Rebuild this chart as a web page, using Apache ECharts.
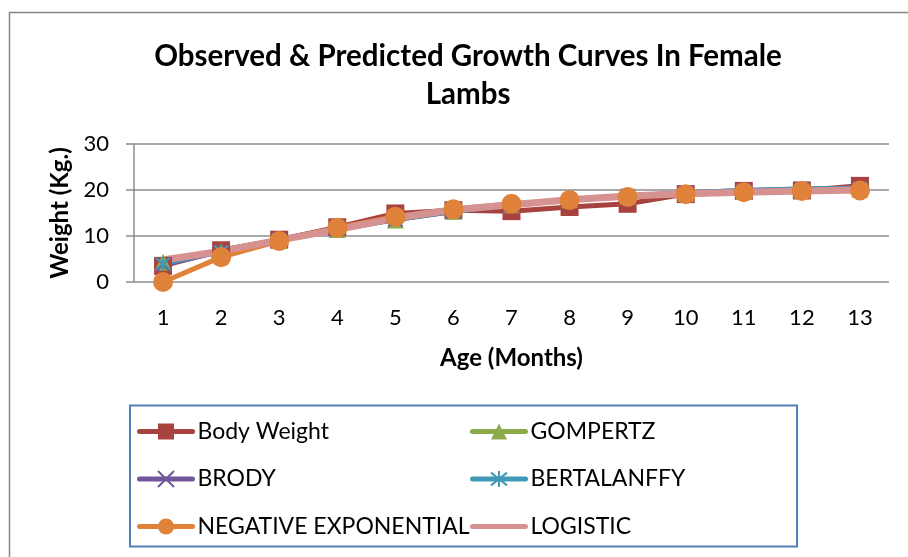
<!DOCTYPE html>
<html>
<head>
<meta charset="utf-8">
<script src="https://cdn.jsdelivr.net/npm/echarts@6/dist/echarts.min.js"></script>
<style>
  html, body { margin: 0; padding: 0; background: #fff; }
  #chart { width: 908px; height: 557px; }
</style>
</head>
<body>
<div id="chart"></div>
<script>
// ---- data ----
const months = ['1', '2', '3', '4', '5', '6', '7', '8', '9', '10', '11', '12', '13'];
const bodyWeight = [3.5, 6.9, 9.2, 11.9, 14.9, 15.6, 15.4, 16.3, 17.0, 19.1, 19.8, 19.9, 20.9];
const gompertz = [4.3, 6.6, 9.0, 11.4, 13.5, 15.4, 16.8, 17.9, 18.7, 19.3, 19.7, 20.0, 20.2];
const brody = [3.8, 6.6, 9.2, 11.5, 13.6, 15.3, 16.7, 17.8, 18.7, 19.4, 19.9, 20.2, 20.4];
const bertalanffy = [4.0, 6.7, 9.2, 11.5, 13.7, 15.4, 16.8, 17.9, 18.7, 19.4, 19.9, 20.2, 20.4];
const negExp = [0, 5.4, 8.9, 11.8, 14.2, 15.8, 17.0, 17.8, 18.5, 19.1, 19.5, 19.8, 19.9];
const logistic = [4.8, 6.7, 9.1, 11.4, 13.9, 15.7, 16.8, 17.9, 18.7, 19.2, 19.5, 19.8, 20.0];
const yTicks = [0, 10, 20, 30];

const FONT = 'Lato';

const chart = echarts.init(document.getElementById('chart'));

function lineSeries(name, data, color, symbol, size, extra) {
  return Object.assign({
    name,
    type: 'line',
    data,
    symbol,
    symbolSize: size,
    lineStyle: { color, width: 5 },
    itemStyle: { color },
    animation: false,
  }, extra || {});
}

const crossPath = 'path://M0,0L10,10M10,0L0,10';
const starPath = 'path://M5,0L5,10M1,1L9,9M9,1L1,9';

const legendBase = {
  orient: 'vertical',
  top: 415,
  itemWidth: 53,
  itemHeight: 20,
  itemGap: 24.5,
  lineStyle: { width: 5, cap: 'round' },
  textStyle: { fontFamily: FONT, fontSize: 23, color: '#000' },
};

chart.setOption({
  title: {
    text: 'Observed & Predicted Growth Curves In Female\nLambs',
    left: 463,
    top: 32,
    textAlign: 'center',
    textStyle: {
      fontFamily: FONT,
      fontSize: 29.5,
      fontWeight: 'bold',
      color: '#000',
      lineHeight: 38,
    },
  },
  grid: { left: 134, right: 19, top: 144, bottom: 275, containLabel: false },
  xAxis: {
    type: 'category',
    data: months,
    boundaryGap: true,
    name: 'Age (Months)',
    nameLocation: 'middle',
    nameGap: 64,
    nameTextStyle: { fontFamily: FONT, fontSize: 24, fontWeight: 'bold', color: '#000' },
    axisLine: { show: false },
    axisTick: { show: false },
    axisLabel: { fontFamily: FONT, fontSize: 22, color: '#000', margin: 25 },
  },
  yAxis: {
    type: 'value',
    min: yTicks[0],
    max: yTicks[yTicks.length - 1],
    interval: 10,
    name: 'Weight (Kg.)',
    nameLocation: 'middle',
    nameGap: 62,
    nameRotate: 90,
    nameTextStyle: { fontFamily: FONT, fontSize: 24, fontWeight: 'bold', color: '#000' },
    axisLine: { show: true, lineStyle: { color: '#8c8c8c', width: 1.5 } },
    axisTick: { show: true, length: 8, lineStyle: { color: '#8c8c8c', width: 1.5 } },
    axisLabel: { fontFamily: FONT, fontSize: 22, color: '#000', margin: 25 },
    splitLine: { lineStyle: { color: '#8c8c8c', width: 1.5 } },
  },
  legend: [
    Object.assign({}, legendBase, {
      data: ['Body Weight', 'BRODY', 'NEGATIVE EXPONENTIAL'],
      left: 132,
    }),
    Object.assign({}, legendBase, {
      data: ['GOMPERTZ', 'BERTALANFFY', { name: 'LOGISTIC', itemStyle: { opacity: 0 } }],
      left: 465,
    }),
  ],
  graphic: [
    {
      type: 'rect',
      shape: { x: 9.5, y: 12.5, width: 930, height: 600 },
      style: { fill: 'none', stroke: '#868686', lineWidth: 1.5 },
      silent: true,
    },
    {
      type: 'rect',
      shape: { x: 130, y: 405.5, width: 667, height: 141 },
      style: { fill: 'none', stroke: '#4F81BD', lineWidth: 2 },
      silent: true,
    },
  ],
  series: [
    lineSeries('Body Weight', bodyWeight, '#A8423F', 'rect', 18),
    lineSeries('GOMPERTZ', gompertz, '#8CAB4B', 'triangle', 17),
    lineSeries('BRODY', brody, '#72569A', crossPath, 14, {
      itemStyle: { color: '#72569A', borderColor: '#72569A', borderWidth: 2 },
    }),
    lineSeries('BERTALANFFY', bertalanffy, '#3F9AB8', starPath, 14, {
      itemStyle: { color: '#3F9AB8', borderColor: '#3F9AB8', borderWidth: 2 },
    }),
    lineSeries('NEGATIVE EXPONENTIAL', negExp, '#E0823A', 'circle', 20),
    lineSeries('LOGISTIC', logistic, '#D69191', 'none', 1, {
      lineStyle: { color: '#D69191', width: 7 },
    }),
  ],
});
</script>
</body>
</html>
